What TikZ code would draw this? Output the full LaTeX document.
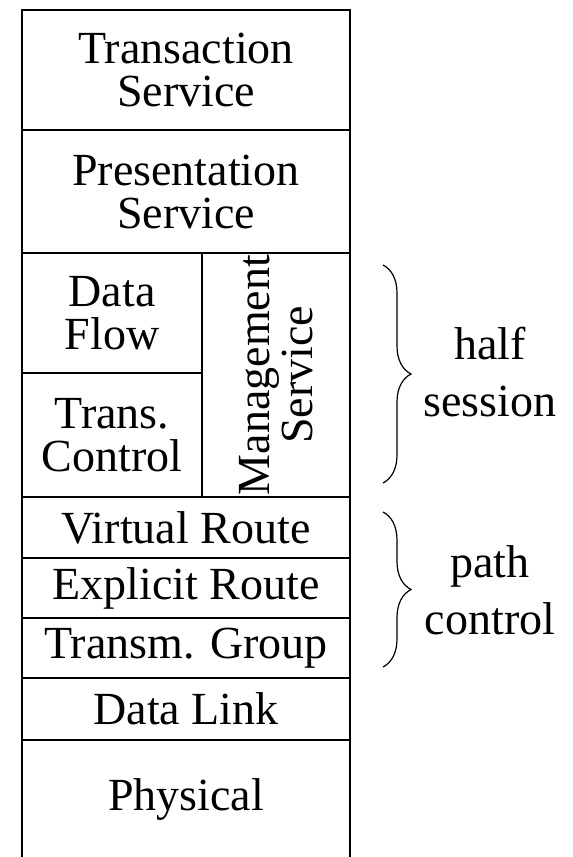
\documentclass[tikz,border=0pt]{standalone}
\usepackage{fontspec}
\setmainfont{Liberation Serif}
\usetikzlibrary{decorations.pathreplacing}

\begin{document}
\begin{tikzpicture}[x=1pt,y=1pt]
    \tikzset{layer/.style={draw, line width=1.8pt, inner sep=0pt, align=center,
        minimum width=328pt, font=\fontsize{46}{43}\selectfont}}
    \tikzset{side/.style={align=center, font=\fontsize{46}{57}\selectfont}}
    \tikzset{bracket/.style={decorate, decoration={brace, amplitude=28pt}, line width=1.2pt}}
    \useasboundingbox (0,0) rectangle (573,-857);
    % protocol stack
    \node[layer, minimum height=120pt] (transaction) at (186,-70) {Transaction\\Service};
    \node[layer, minimum height=123pt] (presentation) at (186,-191.5) {Presentation\\Service};
    \node[layer, minimum width=180pt, minimum height=120pt] (dataflow) at (112,-313) {Data\\Flow};
    \node[layer, minimum width=180pt, minimum height=124pt] (transcontrol) at (112,-435) {Trans.\\Control};
    \node[layer, rotate=90, minimum width=244pt, minimum height=148pt] (management) at (276,-375) {Management\\Service};
    \node[layer, minimum height=61pt] (virtual) at (186,-527.5) {Virtual Route};
    \node[layer, minimum height=60pt] (explicit) at (186,-588) {Explicit Route};
    \node[layer, minimum height=60pt] (transm) at (186,-648) {Transm. Group};
    \node[layer, minimum height=62pt] (datalink) at (186,-709) {Data Link};
    \node[layer, minimum height=118pt] (physical) at (186,-799) {Physical};
    % braces
    \coordinate (hs top) at (383,-265);
    \coordinate (hs bottom) at (383,-483);
    \coordinate (pc top) at (383,-512);
    \coordinate (pc bottom) at (383,-667);
    \draw[bracket] (hs top) -- (hs bottom);
    \draw[bracket] (pc top) -- (pc bottom);
    \node[side] (halfsession) at (490,-372) {half\\session};
    \node[side] (pathcontrol) at (490,-590) {path\\control};
\end{tikzpicture}
\end{document}
